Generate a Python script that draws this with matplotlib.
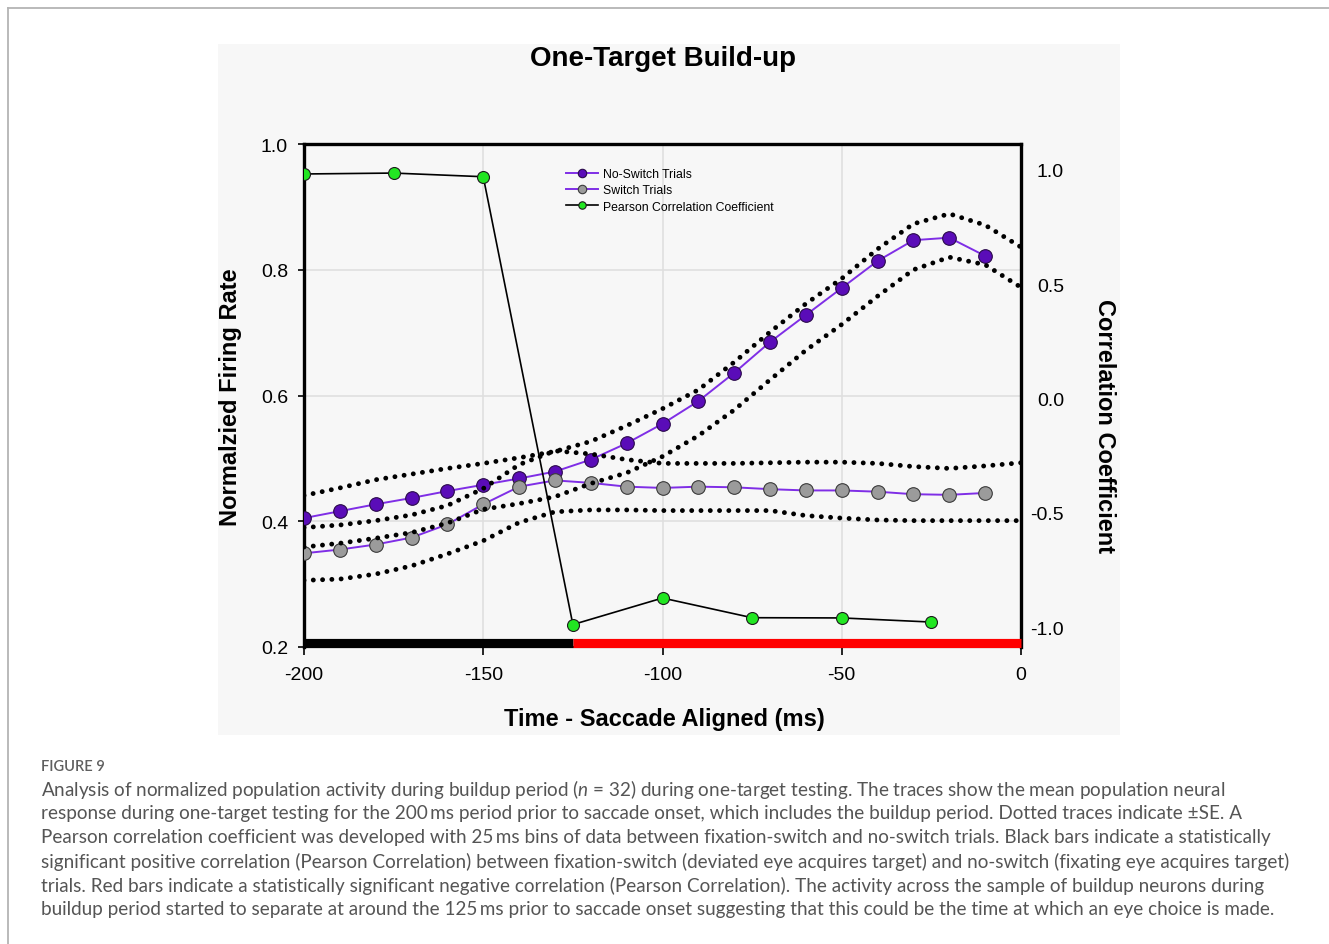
import matplotlib

matplotlib.use("Agg")
import matplotlib.pyplot as plt
from matplotlib.lines import Line2D
from matplotlib.patches import Rectangle

plt.rcParams["font.family"] = ["Liberation Sans", "DejaVu Sans"]
plt.rcParams["axes.unicode_minus"] = False
plt.rcParams["mathtext.fontset"] = "custom"
plt.rcParams["mathtext.it"] = "Lato:italic"
plt.rcParams["mathtext.rm"] = "Lato"

# mean traces (10 ms bins)
time_mean = [-200, -190, -180, -170, -160, -150, -140, -130, -120, -110,
             -100, -90, -80, -70, -60, -50, -40, -30, -20, -10]
no_switch = [0.405, 0.416, 0.427, 0.437, 0.448, 0.458, 0.468, 0.479, 0.498, 0.524,
             0.555, 0.591, 0.636, 0.685, 0.728, 0.771, 0.814, 0.847, 0.851, 0.822]
switch = [0.349, 0.355, 0.363, 0.374, 0.395, 0.427, 0.455, 0.465, 0.461, 0.455,
          0.453, 0.455, 0.454, 0.451, 0.449, 0.449, 0.447, 0.443, 0.442, 0.445]

# +/- SE traces
time_se = [-200, -190, -180, -170, -160, -150, -140, -130, -120, -110, -100,
           -90, -80, -70, -60, -50, -40, -30, -20, -10, 0]
no_switch_hi = [0.441, 0.453, 0.466, 0.475, 0.484, 0.492, 0.501, 0.511, 0.527, 0.552, 0.579,
                0.609, 0.653, 0.701, 0.746, 0.786, 0.833, 0.873, 0.889, 0.871, 0.836]
no_switch_lo = [0.359, 0.365, 0.373, 0.382, 0.397, 0.419, 0.428, 0.439, 0.460, 0.477, 0.503,
                0.536, 0.577, 0.625, 0.672, 0.713, 0.758, 0.800, 0.820, 0.808, 0.772]
switch_hi = [0.390, 0.394, 0.401, 0.410, 0.425, 0.452, 0.490, 0.512, 0.507, 0.498, 0.492,
             0.492, 0.492, 0.493, 0.494, 0.494, 0.492, 0.487, 0.484, 0.488, 0.493]
switch_lo = [0.306, 0.308, 0.316, 0.329, 0.348, 0.369, 0.398, 0.415, 0.418, 0.418, 0.417,
             0.417, 0.417, 0.417, 0.409, 0.405, 0.402, 0.401, 0.401, 0.401, 0.401]

# Pearson correlation, 25 ms bins
time_r = [-200, -175, -150, -125, -100, -75, -50, -25]
pearson_r = [0.981, 0.985, 0.969, -0.988, -0.872, -0.958, -0.959, -0.977]

# significance bars along the x axis
sig_start = [-200, -125]
sig_end = [-125, 0]
sig_color = ["black", "red"]

caption_lines = [
    "Analysis of normalized population activity during buildup period ($n$ = 32) during one-target testing. The traces show the mean population neural",
    "response during one-target testing for the 200\u2009ms period prior to saccade onset, which includes the buildup period. Dotted traces indicate \u00b1SE. A",
    "Pearson correlation coefficient was developed with 25\u2009ms bins of data between fixation-switch and no-switch trials. Black bars indicate a statistically",
    "significant positive correlation (Pearson Correlation) between fixation-switch (deviated eye acquires target) and no-switch (fixating eye acquires target)",
    "trials. Red bars indicate a statistically significant negative correlation (Pearson Correlation). The activity across the sample of buildup neurons during",
    "buildup period started to separate at around the 125\u2009ms prior to saccade onset suggesting that this could be the time at which an eye choice is made.",
]

PURPLE_LINE = "#7f2ee6"
PURPLE_DOT = "#5a0cb8"
GRAY_DOT = "#9b9b9b"
GREEN_DOT = "#22e622"

W, H = 1329, 945
fig = plt.figure(figsize=(W / 100, H / 100), dpi=100)

# page frame and chart panel
fig.add_artist(Line2D([8 / W, 8 / W], [1 - 9 / H, 0], color="#b4b4b4", lw=1.3))
fig.add_artist(Line2D([8 / W, 1], [1 - 9 / H, 1 - 9 / H], color="#b4b4b4", lw=1.3))
fig.add_artist(Rectangle((218 / W, 1 - 736 / H), (1120 - 218) / W, (736 - 45) / H,
                         facecolor="#f7f7f7", edgecolor="none", zorder=0))

ax = fig.add_axes([304 / W, 1 - 648 / H, (1021 - 304) / W, (648 - 145) / H])
ax.set_facecolor("none")
ax.set_xlim(-200, 0)
ax.set_ylim(0.2, 1.0)
ax.set_xticks([-200, -150, -100, -50, 0])
ax.set_yticks([0.2, 0.4, 0.6, 0.8, 1.0])
ax.set_yticklabels(["0.2", "0.4", "0.6", "0.8", "1.0"])
ax.grid(True, color="#dedede", lw=1.1)
ax.set_axisbelow(True)
ax.tick_params(axis="y", direction="out", length=4.5, width=1.2, pad=7, labelsize=14)
ax.tick_params(axis="x", direction="out", length=6, width=1.2, pad=8, labelsize=14)
for side in ["left", "top", "right"]:
    ax.spines[side].set_linewidth(2.4)
ax.spines["bottom"].set_linewidth(1.5)

h1, = ax.plot(time_mean, no_switch, color=PURPLE_LINE, lw=1.4, marker="o", ms=9.8,
              mfc=PURPLE_DOT, mec="#2a0a4a", mew=0.8, zorder=3)
h2, = ax.plot(time_mean, switch, color=PURPLE_LINE, lw=1.4, marker="o", ms=9.8,
              mfc=GRAY_DOT, mec="#3a3a3a", mew=0.8, zorder=3)

for band in [no_switch_hi, no_switch_lo, switch_hi, switch_lo]:
    ax.plot(time_se, band, color="black", lw=3.5, linestyle=(0, (0.01, 1.9)),
            dash_capstyle="round", zorder=4)

for x0, x1, c in zip(sig_start, sig_end, sig_color):
    ax.plot([x0, x1], [0.0085, 0.0085], color=c, lw=6.6, solid_capstyle="butt",
            transform=ax.get_xaxis_transform(), clip_on=False, zorder=5)

ax2 = ax.twinx()
ax2.set_ylim(-1.086, 1.112)
ax2.set_yticks([-1.0, -0.5, 0.0, 0.5, 1.0])
ax2.set_yticklabels(["-1.0", "-0.5", "0.0", "0.5", "1.0"])
ax2.tick_params(axis="y", length=0, pad=31, labelsize=14)
for lab in ax2.get_yticklabels():
    lab.set_horizontalalignment("right")
for side in ["left", "top", "right", "bottom"]:
    ax2.spines[side].set_visible(False)

h3, = ax2.plot(time_r, pearson_r, color="black", lw=1.2, marker="o", ms=8.6,
               mfc=GREEN_DOT, mec="#1a1a1a", mew=0.8, zorder=3)

leg = ax2.legend([h1, h2, h3],
                 ["No-Switch Trials", "Switch Trials", "Pearson Correlation Coefficient"],
                 loc="upper left", bbox_to_anchor=(566 / W, 1 - 169 / H),
                 bbox_transform=fig.transFigure, frameon=False, fontsize=8.8,
                 markerscale=0.62, handlelength=2.6, handletextpad=0.4,
                 labelspacing=0.35, borderpad=0, borderaxespad=0)

fig.text(663 / W, 1 - 59 / H, "One-Target Build-up", ha="center", va="center",
         fontsize=20, fontweight="bold")
fig.text(230 / W, 1 - 397 / H, "Normalzied Firing Rate", ha="center", va="center",
         rotation=90, fontsize=17, fontweight="bold")
fig.text(664 / W, 1 - 720 / H, "Time - Saccade Aligned (ms)", ha="center", va="center",
         fontsize=17, fontweight="bold")
fig.text(1105 / W, 1 - 426 / H, "Correlation Coefficient", ha="center", va="center",
         rotation=270, fontsize=17, fontweight="bold")

fig.text(41 / W, 1 - 767 / H, "FIGURE 9", ha="left", va="center", fontsize=10.5,
         family=["Lato", "DejaVu Sans"], fontweight="semibold", color="#5f5f5f")
for i, line in enumerate(caption_lines):
    fig.text(41 / W, 1 - (790 + 24 * i) / H, line, ha="left", va="center",
             fontsize=13.6, family=["Lato", "DejaVu Sans"], fontweight="normal",
             color="#555555")

fig.savefig("out.png", dpi=100)
